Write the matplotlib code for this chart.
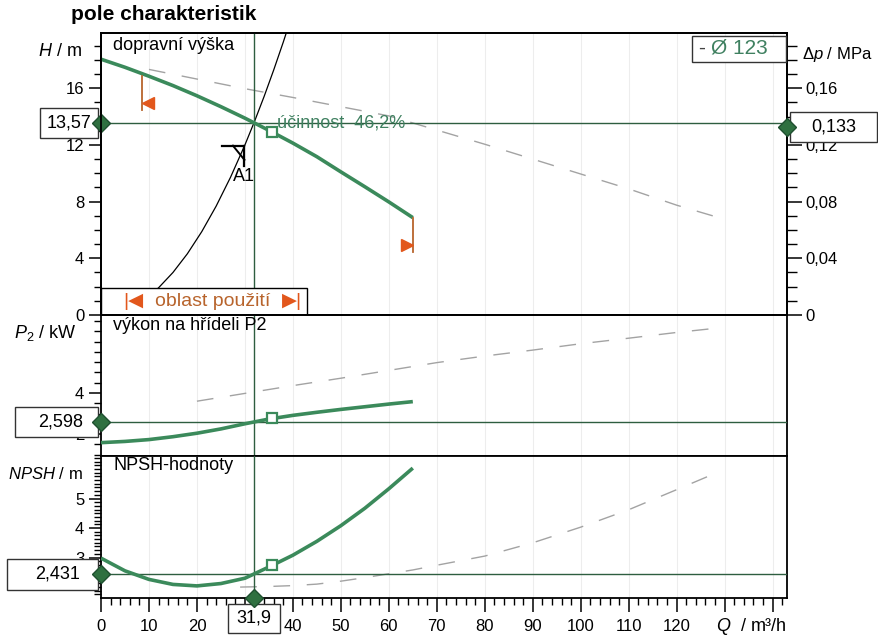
import matplotlib
matplotlib.use("Agg")
import matplotlib.pyplot as plt
from matplotlib.patches import Rectangle
from matplotlib.ticker import MultipleLocator, FixedLocator, FixedFormatter
import matplotlib.transforms as mtransforms

plt.rcParams['font.family'] = ['Liberation Sans', 'DejaVu Sans']
plt.rcParams['mathtext.fontset'] = 'custom'
plt.rcParams['mathtext.rm'] = 'Liberation Sans'
plt.rcParams['mathtext.it'] = 'Liberation Sans:italic'

# --- data ---
q_main = [0, 5, 10, 15, 20, 25, 30, 35, 40, 45, 50, 55, 60, 65]
h_main = [18.05, 17.48, 16.85, 16.19, 15.47, 14.70, 13.89, 13.03, 12.13, 11.17, 10.1, 9.05, 7.98, 6.87]
p_main = [1.58, 1.64, 1.73, 1.87, 2.04, 2.25, 2.50, 2.73, 2.91, 3.06, 3.20, 3.33, 3.46, 3.58]
npsh_main = [2.98, 2.55, 2.26, 2.09, 2.04, 2.12, 2.30, 2.68, 3.08, 3.55, 4.08, 4.67, 5.33, 6.03]

q_h_dash = [10, 20, 30, 40, 50, 60, 70, 80, 90, 100, 110, 120, 128]
h_dash = [17.33, 16.65, 15.97, 15.35, 14.7, 14.05, 13.05, 12.05, 11.0, 9.95, 8.9, 7.75, 6.95]

q_p_dash = [20, 30, 40, 50, 60, 70, 80, 90, 100, 110, 120, 128]
p_dash = [3.6, 3.98, 4.36, 4.72, 5.1, 5.48, 5.8, 6.09, 6.4, 6.67, 6.95, 7.15]

q_n_dash = [29, 35, 40, 45, 50, 55, 60, 65, 70, 80, 90, 100, 110, 120, 128]
n_dash = [2.0, 2.02, 2.05, 2.1, 2.2, 2.32, 2.45, 2.58, 2.74, 3.05, 3.5, 4.03, 4.62, 5.3, 5.85]

q_sys = [9, 12, 15, 18, 21, 24, 27, 30, 32, 34, 36, 38, 40]
h_sys = [1.08, 1.92, 3.0, 4.32, 5.88, 7.68, 9.72, 12.0, 13.66, 15.42, 17.29, 19.26, 21.34]

duty_q = 31.9
duty_h = 13.57
duty_dp = 0.133
duty_p = 2.598
duty_npsh = 2.431
efficiency = "46,2%"
diameter = "Ø 123"

mark_q = 35.6
mark_h, mark_p, mark_n = 12.9, 2.8, 2.75

flag_q = [8.6, 65.0]
flag_h = [16.9, 6.87]

a1_q, a1_h = 29.9, 11.95

# --- styling ---
GREEN = '#3b8a5b'
LINE = '#2e5e40'
DIAM = '#2f7040'
GREY = '#a3a3a3'
ORANGE = '#e2571c'
BROWN = '#b8642c'
TEXTGREEN = '#3f8060'

W, H = 879, 636
fig = plt.figure(figsize=(W / 100, H / 100), dpi=100)


def fx(px):
    return px / W


def fy(py):
    return 1 - py / H


left, right = 101, 787
ax1 = fig.add_axes([fx(left), fy(315), fx(right) - fx(left), fy(33) - fy(315)])
ax2 = fig.add_axes([fx(left), fy(456), fx(right) - fx(left), fy(315) - fy(456)], sharex=ax1)
ax3 = fig.add_axes([fx(left), fy(598), fx(right) - fx(left), fy(456) - fy(598)], sharex=ax1)

ax1.set_xlim(0, 143)
ax1.set_ylim(0, 19.9)
ax2.set_ylim(0.93, 7.8)
ax3.set_ylim(1.63, 6.44)

ax1r = ax1.twinx()
ax1r.set_ylim(0, 0.199)

for ax in (ax1, ax2, ax3, ax1r):
    for s in ax.spines.values():
        s.set_linewidth(1.3)
        s.set_color('black')

for ax in (ax1, ax2, ax3):
    ax.xaxis.set_major_locator(MultipleLocator(10))
    ax.xaxis.set_minor_locator(MultipleLocator(2))
    ax.grid(axis='x', which='major', color='#ededed', lw=0.8, zorder=0)
    ax.tick_params(axis='y', which='major', direction='out', length=9, width=1.1,
                   labelsize=12, pad=3)
    ax.tick_params(axis='y', which='minor', direction='out', length=5, width=1.0)
for ax in (ax1, ax2):
    ax.tick_params(axis='x', which='both', bottom=False, labelbottom=False)

ax3.tick_params(axis='x', which='major', direction='out', length=10, width=1.1,
                labelsize=12, pad=5)
ax3.tick_params(axis='x', which='minor', direction='out', length=5, width=1.0)
xt = list(range(0, 150, 10))
ax3.xaxis.set_major_locator(FixedLocator(xt))
ax3.xaxis.set_major_formatter(FixedFormatter([str(v) if v <= 120 else '' for v in xt]))

ax1.yaxis.set_major_locator(FixedLocator([0, 4, 8, 12, 16]))
ax1.yaxis.set_minor_locator(MultipleLocator(1))
ax2.yaxis.set_major_locator(FixedLocator([2, 4]))
ax2.yaxis.set_minor_locator(MultipleLocator(0.5))
ax3.yaxis.set_major_locator(FixedLocator([3, 4, 5]))
ax3.yaxis.set_minor_locator(MultipleLocator(0.125))

dp_ticks = [0, 0.04, 0.08, 0.12, 0.16]
ax1r.yaxis.set_major_locator(FixedLocator(dp_ticks))
ax1r.yaxis.set_major_formatter(FixedFormatter(['0'] + [f"{v:.2f}".replace('.', ',') for v in dp_ticks[1:]]))
ax1r.yaxis.set_minor_locator(MultipleLocator(0.01))
ax1r.tick_params(axis='y', which='major', direction='out', length=11, width=1.1, labelsize=12, pad=2)
ax1r.tick_params(axis='y', which='minor', direction='out', length=7, width=1.0)

# --- curves ---
ax1.plot(q_h_dash, h_dash, color=GREY, lw=1.0, dashes=(12, 12), zorder=2)
ax1.plot(q_sys, h_sys, color='black', lw=0.9, zorder=3)
ax1.plot(q_main, h_main, color=GREEN, lw=2.6, zorder=4, solid_capstyle='butt')
ax2.plot(q_p_dash, p_dash, color=GREY, lw=1.0, dashes=(12, 12), zorder=2)
ax2.plot(q_main, p_main, color=GREEN, lw=2.6, zorder=4, solid_capstyle='butt')
ax3.plot(q_n_dash, n_dash, color=GREY, lw=1.0, dashes=(12, 12), zorder=2)
ax3.plot(q_main, npsh_main, color=GREEN, lw=2.6, zorder=4, solid_capstyle='butt')

# duty point lines
for ax in (ax1, ax2, ax3):
    ax.axvline(duty_q, color=LINE, lw=1.0, zorder=3)
ax1.axhline(duty_h, color=LINE, lw=1.0, zorder=3)
ax2.axhline(duty_p, color=LINE, lw=1.0, zorder=3)
ax3.axhline(duty_npsh, color=LINE, lw=1.0, zorder=3)

# open squares
ax1.plot(mark_q, mark_h, 's', mfc='white', mec=GREEN, ms=7, mew=1.6, zorder=5)
ax2.plot(mark_q, mark_p, 's', mfc='white', mec=GREEN, ms=7, mew=1.6, zorder=5)
ax3.plot(mark_q, mark_n, 's', mfc='white', mec=GREEN, ms=7, mew=1.6, zorder=5)

# operating range flags
for q, hv, mk, off in zip(flag_q, flag_h, ['<', '>'], [1.3, -1.3]):
    ax1.plot([q, q], [hv, hv - 2.45], color=BROWN, lw=1.3, zorder=5)
    ax1.plot(q + off, hv - 1.95, marker=mk, color=ORANGE, ms=9, zorder=5)

# A1 marker
ax1.plot([a1_q - 4.6, a1_q], [a1_h, a1_h], color='black', lw=1.6, zorder=5)
ax1.plot([a1_q, a1_q], [a1_h, a1_h - 1.45], color='black', lw=1.6, zorder=5)
ax1.plot([a1_q - 2.4, a1_q], [a1_h, a1_h - 1.0], color='black', lw=1.4, zorder=5)
ax1.text(a1_q - 0.1, a1_h - 2.15, 'A1', fontsize=13, ha='center', va='center', zorder=5)

ax1.text(duty_q + 4.8, duty_h - 0.33, 'účinnost  ' + efficiency, color=TEXTGREEN,
         fontsize=13, ha='left', va='baseline', zorder=5)

# application range box
ax1.add_patch(Rectangle((0, 0), 43, 1.9, fc='white', ec='black', lw=1.0, zorder=6, clip_on=False))
ax1.text(6.7, 0.95, '|◀', color=ORANGE, fontsize=14, ha='center', va='center', zorder=7)
ax1.text(23.2, 0.95, 'oblast použití', color=BROWN, fontsize=14, ha='center', va='center', zorder=7)
ax1.text(39.9, 0.95, '▶|', color=ORANGE, fontsize=14, ha='center', va='center', zorder=7)

# panel titles and axis labels
ax1.text(0.0175, 0.954, 'dopravní výška', transform=ax1.transAxes, fontsize=13, va='center')
ax2.text(0.0175, 0.922, 'výkon na hřídeli P2', transform=ax2.transAxes, fontsize=13, va='center')
ax3.text(0.0175, 0.93, 'NPSH-hodnoty', transform=ax3.transAxes, fontsize=13, va='center')

fig.text(fx(82), fy(52), r'$\mathit{H}$ / m', fontsize=13, ha='right', va='center')
fig.text(fx(76), fy(333), r'$\mathit{P}_{2}$ / kW', fontsize=13, ha='right', va='center')
fig.text(fx(83), fy(474), r'$\mathit{NPSH}$ / m', fontsize=12, ha='right', va='center')
fig.text(fx(802), fy(55), r'$\mathit{Δp}$ / MPa', fontsize=12, ha='left', va='center')
ax3.text(135.6, -0.2, r'$\mathit{Q}$  / m³/h', transform=mtransforms.blended_transform_factory(ax3.transData, ax3.transAxes),
         fontsize=13, ha='center', va='center')

fig.text(fx(71), fy(15), 'pole charakteristik', fontsize=15, weight='bold', va='center')

# value boxes
inv = fig.transFigure.inverted()


def fig_y(ax, val):
    return inv.transform(ax.transData.transform((0, val)))[1]


def value_box(ax, x0, x1, yc, hpx, text, xt, color='black', size=13):
    hh = hpx / H
    ax.add_patch(Rectangle((fx(x0), yc - hh / 2), fx(x1) - fx(x0), hh, transform=fig.transFigure,
                           fc='white', ec='#333333', lw=1.0, zorder=7, clip_on=False))
    ax.text(fx(xt), yc, text, transform=fig.transFigure, fontsize=size, color=color,
            ha='center', va='center', zorder=8, clip_on=False)


def comma(v, n):
    return f"{v:.{n}f}".replace('.', ',')


value_box(ax1, 40, 98, fig_y(ax1, duty_h), 30, comma(duty_h, 2), 69)
value_box(ax2, 15, 98, fig_y(ax2, duty_p), 30, comma(duty_p, 3), 61)
value_box(ax3, 7, 98, fig_y(ax3, duty_npsh), 31, comma(duty_npsh, 3), 58)
value_box(ax1r, 790, 877, fig_y(ax1r, duty_dp), 30, comma(duty_dp, 3), 834)
qx = inv.transform(ax3.transData.transform((duty_q, 0)))[0] * W
value_box(ax3, qx - 26, qx + 26, fy(618), 29, comma(duty_q, 1), qx)
value_box(ax1r, 692, 786, fy(49), 26, '', 731)
ax1r.text(fx(702), fy(48), '-', transform=fig.transFigure, fontsize=15, color='#444444',
          ha='center', va='center', zorder=8)
ax1r.text(fx(711), fy(48), diameter, transform=fig.transFigure, fontsize=15, color=TEXTGREEN,
          ha='left', va='center', zorder=8)

# diamonds on the axes
dkw = dict(marker='D', ms=9, mfc=DIAM, mec='#1f5030', clip_on=False, zorder=9, ls='none')
ax1.plot(0, duty_h, **dkw)
ax2.plot(0, duty_p, **dkw)
ax3.plot(0, duty_npsh, **dkw)
ax1r.plot(143, duty_dp, **dkw)
ax3.plot(duty_q, ax3.get_ylim()[0], **dkw)

fig.savefig('out.png', dpi=100)
